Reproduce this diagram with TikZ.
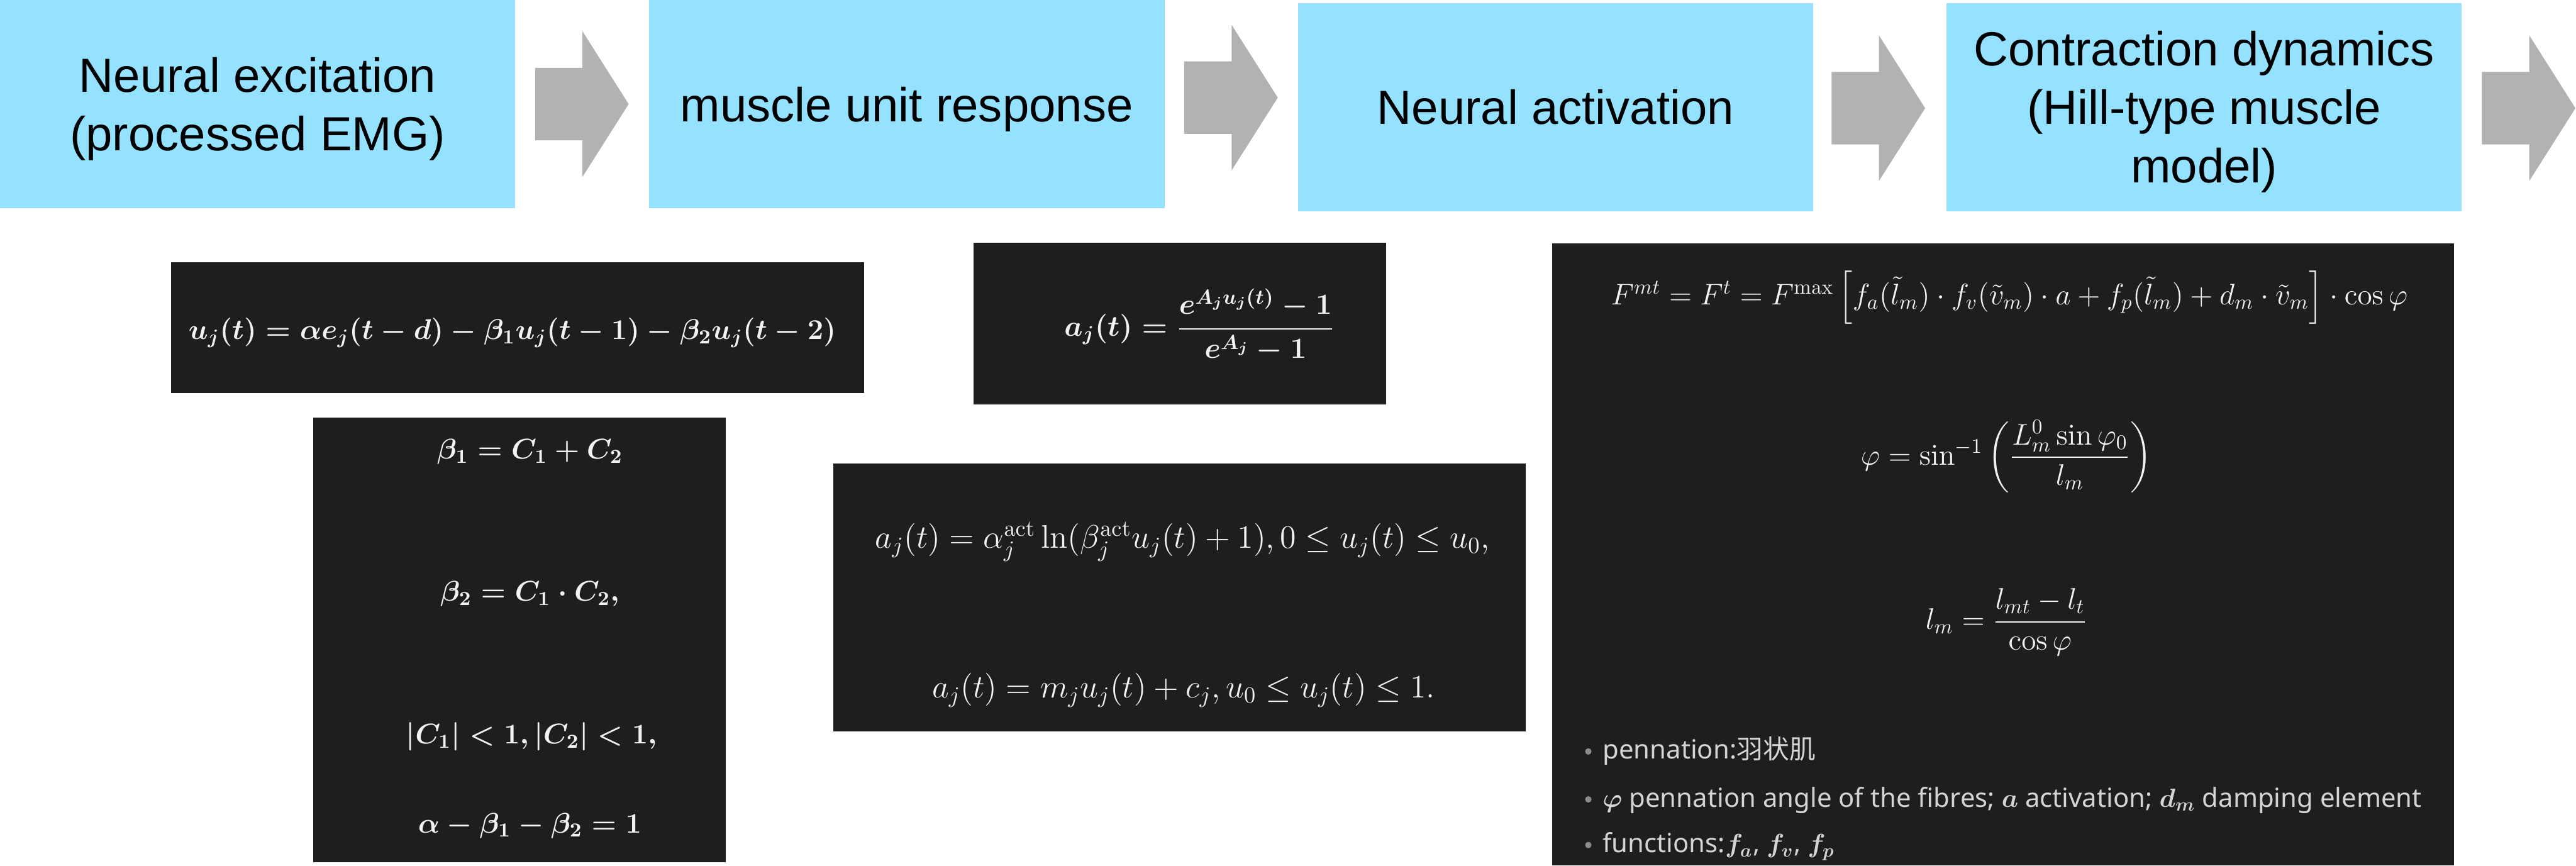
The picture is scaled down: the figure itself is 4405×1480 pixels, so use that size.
\RequirePackage{fix-cm}
\documentclass[tikz,border=0pt]{standalone}
\usepackage[no-math]{fontspec}
\usepackage{amsmath}
\usetikzlibrary{fit,calc}
\newfontfamily\boxsans{Liberation Sans}
\newfontfamily\notesans{Noto Sans}
\newfontfamily\cjk{Noto Sans CJK SC}
\definecolor{stageFill} {HTML}{94E2FF}
\definecolor{stageInk}  {HTML}{000000}
\definecolor{arrowGrey} {HTML}{B2B2B2}
\definecolor{panelFill} {HTML}{1E1E1E}
\definecolor{panelEdge} {HTML}{A6A6A6}
\definecolor{mathInk}   {HTML}{F2F2F2}
\definecolor{noteInk}   {HTML}{D4D4D4}
\definecolor{noteDot}   {HTML}{8C8C8C}
\tikzset{
  chevron/.pic={
    \fill[arrowGrey] (0,-62) -- (81,-62) -- (81,-124.5) -- (160,0)
      -- (81,124.5) -- (81,62) -- (0,62) -- cycle;
  },
}
\newcommand{\noteitem}[3]{%
  \node[notedot] at (2716,#1-13) {};
  \node[note] (#2) at (2740,#1) {#3};
}

\begin{document}
\begin{tikzpicture}[x=0.01cm, y=-0.01cm,
  every node/.style ={inner sep=0pt},
  stage/.style      ={fill=stageFill, minimum width=8.81cm, minimum height=3.56cm, text depth=0pt, align=center, text=stageInk, font=\boxsans\fontsize{23.3pt}{28.45pt}\selectfont},
  pnl/.style        ={fill=panelFill},
  eqdelay/.style    ={anchor=base, text=mathInk, font=\fontsize{13.9pt}{18pt}\selectfont\boldmath},
  eqcoef/.style     ={anchor=base, text=mathInk, font=\fontsize{13.8pt}{18pt}\selectfont\boldmath},
  eqexp/.style      ={anchor=base, text=mathInk, font=\fontsize{14.2pt}{18pt}\selectfont\boldmath},
  eqlog/.style      ={anchor=base, text=mathInk, font=\fontsize{15.9pt}{18pt}\selectfont},
  eqhill/.style     ={anchor=base, text=mathInk, font=\fontsize{14.5pt}{18pt}\selectfont},
  note/.style       ={anchor=base west, text=noteInk, font=\notesans\fontsize{12.8pt}{15pt}\selectfont\boldmath},
  notedot/.style    ={circle, fill=noteDot, minimum size=0.11cm},
]

\useasboundingbox (0,0) rectangle (4405,1480);

\node[stage] (excite)   at (440.5,178)  {Neural excitation\\(processed EMG)};
\node[stage] (unitresp) at (1550.5,178) {muscle unit response};
\node[stage] (activ)    at (2660,183)   {Neural activation};
\node[stage] (hill)     at (3769,183)   {Contraction dynamics\\(Hill-type muscle\\model)};

\pic at (915,178)  {chevron};
\pic at (2025,167) {chevron};
\pic at (3132,185) {chevron};
\pic at (4244,185) {chevron};

\node[pnl, fit={(292,448) (1478,672)}]   (pnlDelay) {};
\node[pnl, fit={(536,714) (1241,1474)}]  (pnlCoef)  {};
\node[pnl, fit={(1665,415) (2370,691)}]  (pnlExp)   {};
\node[pnl, fit={(1425,793) (2609,1251)}] (pnlLog)   {};
\node[pnl, fit={(2654,416) (4196,1480)}] (pnlHill)  {};
\draw[panelEdge, line width=0.02cm] (pnlExp.south west) -- (pnlExp.south east);

\node[eqdelay] (eqDelay) at (876,580) {$u_j(t)=\alpha e_j(t-d)-\beta_1u_j(t-1)-\beta_2u_j(t-2)$};

\node[eqcoef] (eqBetaA) at (906,785)  {$\beta_1=C_1+C_2$};
\node[eqcoef] (eqBetaB) at (906,1028) {$\beta_2=C_1\cdot C_2,$};
\node[eqcoef] (eqBound) at (909,1272) {$|C_1|<1,|C_2|<1,$};
\node[eqcoef] (eqSum)   at (906,1424) {$\alpha-\beta_1-\beta_2=1$};

\node[eqexp] (eqExp) at (2051,575) {$a_j(t)=\dfrac{e^{A_ju_j(t)}-1}{e^{A_j}-1}$};

\node[eqlog] (eqLogA) at (2022,937)  {$a_j(t)=\alpha_j^{\mathrm{act}}\ln(\beta_j^{\mathrm{act}}u_j(t)+1),0\le u_j(t)\le u_0,$};
\node[eqlog] (eqLogB) at (2024,1193) {$a_j(t)=m_ju_j(t)+c_j,u_0\le u_j(t)\le1.$};

\node[eqhill] (eqForce)  at (3436,521)  {$F^{mt}=F^{t}=F^{\max}\left[f_a(\tilde{l}_m)\cdot f_v(\tilde{v}_m)\cdot a+f_p(\tilde{l}_m)+d_m\cdot\tilde{v}_m\right]\cdot\cos\varphi$};
\node[eqhill] (eqAngle)  at (3431,795)  {$\varphi=\sin^{-1}\left(\dfrac{L_m^0\sin\varphi_0}{l_m}\right)$};
\node[eqhill] (eqLength) at (3431,1076) {$l_m=\dfrac{l_{mt}-l_t}{\cos\varphi}$};

\noteitem{1298}{notePenn}{pennation:{\cjk 羽状肌}}
\noteitem{1380}{noteAngle}{$\varphi$ pennation angle of the fibres; $a$ activation; $d_m$ damping element}
\noteitem{1458}{noteFunc}{functions:$f_a$, $f_v$, $f_p$}

\end{tikzpicture}
\end{document}
